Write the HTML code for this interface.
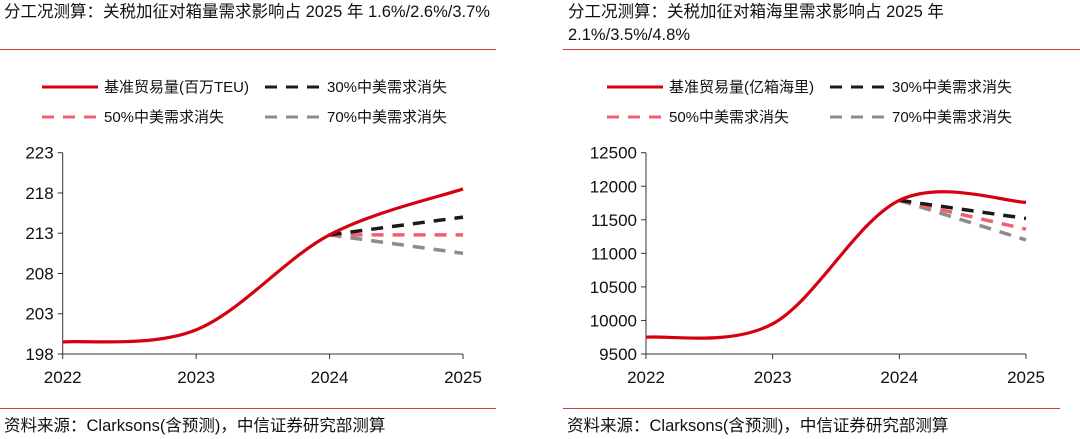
<!DOCTYPE html>
<html><head><meta charset="utf-8">
<style>
html,body{margin:0;padding:0;background:#fff;}
body{width:1080px;height:439px;overflow:hidden;position:relative;font-family:"Liberation Sans","Noto Sans CJK SC",sans-serif;}
.t{position:absolute;font-size:16.5px;color:#111;line-height:23px;white-space:nowrap;}
</style></head><body>
<div class="t" style="left:4px;top:1px;">分工况测算：关税加征对箱量需求影响占 2025 年 1.6%/2.6%/3.7%</div>
<div class="t" style="left:568px;top:1px;">分工况测算：关税加征对箱海里需求影响占 2025 年<br>2.1%/3.5%/4.8%</div>
<div class="t" style="left:4px;top:415px;">资料来源：Clarksons(含预测)，中信证券研究部测算</div>
<div class="t" style="left:567px;top:415px;">资料来源：Clarksons(含预测)，中信证券研究部测算</div>
<svg id="svg" width="1080" height="439" style="position:absolute;left:0;top:0"></svg>
<script>
const years = ["2022","2023","2024","2025"];
const leftBase = [199.5, 201.0, 212.8, 218.5];
const left30 = [212.8, 215.0];
const left50 = [212.8, 212.8];
const left70 = [212.8, 210.5];
const leftTicks = [198, 203, 208, 213, 218, 223];
const rightBase = [9750, 9950, 11790, 11760];
const right30 = [11790, 11520];
const right50 = [11790, 11360];
const right70 = [11790, 11200];
const rightTicks = [9500, 10000, 10500, 11000, 11500, 12000, 12500];
const leftLegend = ["基准贸易量(百万TEU)", "30%中美需求消失", "50%中美需求消失", "70%中美需求消失"];
const rightLegend = ["基准贸易量(亿箱海里)", "30%中美需求消失", "50%中美需求消失", "70%中美需求消失"];

const NS = "http://www.w3.org/2000/svg";
const svg = document.getElementById('svg');
function mk(tag, attrs, parent) {
  const e = document.createElementNS(NS, tag);
  for (const k in attrs) e.setAttribute(k, attrs[k]);
  (parent || svg).appendChild(e);
  return e;
}
let d;
d = mk('line', {x1:0, y1:49.5, x2:496, y2:49.5, stroke:'#d03a3e', 'stroke-width':1});


d = mk('line', {x1:563, y1:49.5, x2:1080, y2:49.5, stroke:'#d03a3e', 'stroke-width':1});


d = mk('line', {x1:0, y1:408.5, x2:496, y2:408.5, stroke:'#d03a3e', 'stroke-width':1});


d = mk('line', {x1:563, y1:408.5, x2:1060, y2:408.5, stroke:'#d03a3e', 'stroke-width':1});



function chart(cfg) {
  const g = mk('g', {});
  
  
  const x = i => cfg.x0 + (cfg.x1 - cfg.x0) * i / (years.length - 1);
  const lo = cfg.ticks[0], hi = cfg.ticks[cfg.ticks.length - 1];
  const y = v => cfg.yb - (cfg.yb - cfg.yt) * (v - lo) / (hi - lo);
  let a = mk('line', {x1:cfg.x0, y1:cfg.yt, x2:cfg.x0, y2:cfg.yb, stroke:'#333', 'stroke-width':1}, g);
  
  
  a = mk('line', {x1:cfg.x0, y1:cfg.yb, x2:cfg.x1, y2:cfg.yb, stroke:'#333', 'stroke-width':1}, g);
  
  
  cfg.ticks.forEach(t => {
    const tk = mk('line', {x1:cfg.x0 - 5, y1:y(t), x2:cfg.x0, y2:y(t), stroke:'#333'}, g);
    
    
    const tx = mk('text', {x:cfg.x0 - 9, y:y(t) + 6, 'text-anchor':'end', 'font-size':17, fill:'#111'}, g);
    tx.textContent = t;
    
    
  });
  years.forEach((yr, i) => {
    const tk = mk('line', {x1:x(i), y1:cfg.yb, x2:x(i), y2:cfg.yb + 5, stroke:'#333'}, g);
    
    
    const tx = mk('text', {x:x(i), y:cfg.yb + 29, 'text-anchor':'middle', 'font-size':17, fill:'#111'}, g);
    tx.textContent = yr;
    
    
  });
  const P = cfg.base.map((v, i) => [x(i), y(v)]);
  let dd = 'M' + P[0][0] + ',' + P[0][1];
  for (let i = 0; i < P.length - 1; i++) {
    const p0 = P[i - 1] || P[i], p1 = P[i], p2 = P[i + 1], p3 = P[i + 2] || P[i + 1];
    const c1 = [p1[0] + (p2[0] - p0[0]) / 6, p1[1] + (p2[1] - p0[1]) / 6];
    const c2 = [p2[0] - (p3[0] - p1[0]) / 6, p2[1] - (p3[1] - p1[1]) / 6];
    dd += ' C' + c1 + ' ' + c2 + ' ' + p2;
  }
  const scen = [[cfg.s70, '#8c8c8c', 'scenario-70-line'], [cfg.s50, '#f2606e', 'scenario-50-line'], [cfg.s30, '#1a1a1a', 'scenario-30-line']];
  scen.forEach(s => {
    const l = mk('line', {x1:x(2), y1:y(s[0][0]), x2:x(3), y2:y(s[0][1]), stroke:s[1], 'stroke-width':3.5, 'stroke-dasharray':'12,9'}, g);
    
    
  });
  const bl = mk('path', {d:dd, fill:'none', stroke:'#d7000f', 'stroke-width':3.2}, g);
  
  
  const L = cfg.lx;
  const items = [[L, 87, '#d7000f', null, cfg.legend[0]], [L + 223, 87, '#1a1a1a', '12,9', cfg.legend[1]],
                 [L, 117, '#f2606e', '12,9', cfg.legend[2]], [L + 223, 117, '#8c8c8c', '12,9', cfg.legend[3]]];
  items.forEach(it => {
    const lg = mk('g', {}, g);
    
    
    const at = {x1:it[0], y1:it[1], x2:it[0] + 56, y2:it[1], stroke:it[2], 'stroke-width':3};
    if (it[3]) at['stroke-dasharray'] = it[3];
    mk('line', at, lg);
    const tx = mk('text', {x:it[0] + 62, y:it[1] + 5, 'font-size':15, fill:'#111'}, lg);
    tx.textContent = it[4];
  });
}
chart({name:'left-chart', x0:62.7, x1:463, yt:152.7, yb:354, ticks:leftTicks, base:leftBase, s30:left30, s50:left50, s70:left70, lx:42, legend:leftLegend});
chart({name:'right-chart', x0:646, x1:1026, yt:152.7, yb:354, ticks:rightTicks, base:rightBase, s30:right30, s50:right50, s70:right70, lx:607, legend:rightLegend});
</script>
</body></html>
